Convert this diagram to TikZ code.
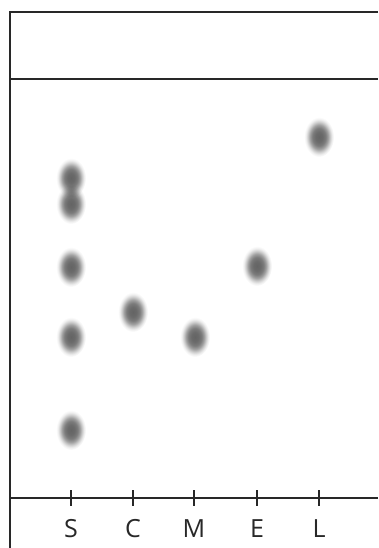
\documentclass[tikz,border=0pt]{standalone}
\usepackage{fontspec}
\setsansfont{Open Sans}
\usepackage{tikz}
\usepackage{xcolor}
\usetikzlibrary{shapes,positioning,calc}
\definecolor{spotgray}{RGB}{100,100,100}
\definecolor{platedark}{RGB}{40,40,40}
\pgfdeclareradialshading{spotfade}{\pgfpoint{0bp}{0bp}}{color(0bp)=(spotgray); color(6bp)=(spotgray!96!white); color(11bp)=(spotgray!85!white); color(15bp)=(spotgray!62!white); color(19bp)=(spotgray!30!white); color(22bp)=(spotgray!10!white); color(25bp)=(white); color(50bp)=(white)}

\begin{document}
\begin{tikzpicture}[
            x=1pt, y=-1pt,
            frame/.style={line width=2pt, platedark},
            tick/.style={line width=1.5pt, platedark},
            spot/.style={ellipse, shade, shading=spotfade, minimum width=30, minimum height=40, inner sep=0pt},
            lab/.style={font=\sffamily\fontsize{25}{28}\selectfont, text=platedark}
        ]
            \useasboundingbox (0,0) rectangle (378,548);

            % Plate
            \draw[frame] (378,12) -- (10,12) -- (10,548);
            \draw[frame] (10,79) -- (378,79);
            \draw[frame] (10,498) -- (378,498);

            % Lanes
            \coordinate (tS) at (71,498);
            \coordinate (tC) at (133,498);
            \coordinate (tM) at (194,498);
            \coordinate (tE) at (257,498);
            \coordinate (tL) at (319,498);
            \draw[tick] ([yshift=8pt]tS) -- ([yshift=-8pt]tS);
            \draw[tick] ([yshift=8pt]tC) -- ([yshift=-8pt]tC);
            \draw[tick] ([yshift=8pt]tM) -- ([yshift=-8pt]tM);
            \draw[tick] ([yshift=8pt]tE) -- ([yshift=-8pt]tE);
            \draw[tick] ([yshift=8pt]tL) -- ([yshift=-8pt]tL);

            % Labels
            \node[lab] (labS) at (71,529) {S};
            \node[lab] (labC) at (133,529) {C};
            \node[lab] (labM) at (194,529) {M};
            \node[lab] (labE) at (257,529) {E};
            \node[lab] (labL) at (319,529) {L};

            % Spots
            \begin{scope}[blend mode=multiply]
            \node[spot] (s5) at (71,430) {};
            \node[spot] (s4) at (71,337) {};
            \node[spot] (s3) at (71,267) {};
            \node[spot] (s1) at (71,178) {};
            \node[spot] (s2) at (71,204) {};
            \node[spot] (c1) at (133,312) {};
            \node[spot] (m1) at (195,337) {};
            \node[spot] (e1) at (257,266) {};
            \node[spot] (l1) at (319,137) {};
            \end{scope}
        \end{tikzpicture}
\end{document}
